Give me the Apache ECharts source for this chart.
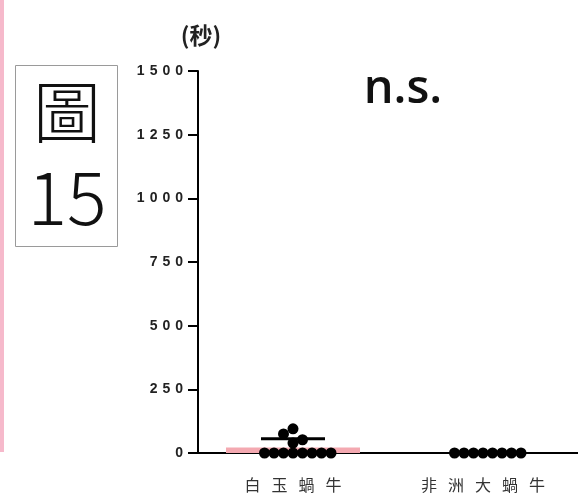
<!DOCTYPE html>
<html>
<head>
<meta charset="utf-8">
<script src="https://cdn.jsdelivr.net/npm/echarts@6/dist/echarts.min.js"></script>
<style>
  html, body { margin: 0; padding: 0; background: #ffffff; }
  #chart { width: 578px; height: 495px; }
</style>
</head>
<body>
<div id="chart"></div>
<script>
// Groups and individual measurements (seconds)
const categories = ['白玉蝸牛', '非洲大蝸牛'];
const groupA = [0, 0, 0, 0, 0, 0, 0, 0, 39, 52, 75, 95];
const groupB = [0, 0, 0, 0, 0, 0, 0, 0];
const groups = [groupA, groupB];
const yTicks = [0, 250, 500, 750, 1000, 1250, 1500];

// Summary statistics: bar at the mean, whisker cap at mean + SD
function mean(a) { return a.reduce((s, v) => s + v, 0) / a.length; }
function sd(a) {
  const m = mean(a);
  return Math.sqrt(a.reduce((s, v) => s + (v - m) * (v - m), 0) / (a.length - 1));
}
const means = groups.map(mean);
const caps = groups.map((g, i) => means[i] + sd(g));

// Plot geometry
const gridLeft = 198, gridTop = 71, gridHeight = 382, gridWidth = 384;
const yMax = 1500;
const dotSize = 11;
const dotStep = 9.6;
const pxPerY = gridHeight / yMax;
const pxPerX = gridWidth / categories.length;

// Simple beeswarm: place each point at the first horizontal slot free of overlap
function swarm(values, center) {
  const placed = [];
  const out = [];
  values.slice().sort((a, b) => a - b).forEach(v => {
    const py = v * pxPerY;
    for (let k = 0; k < 60; k++) {
      const step = Math.ceil(k / 2) * (k % 2 === 1 ? 1 : -1) * dotStep;
      const ok = placed.every(p => Math.hypot(p[0] - step, p[1] - py) >= dotStep * 0.98);
      if (ok) {
        placed.push([step, py]);
        out.push([center + step / pxPerX, v]);
        break;
      }
    }
  });
  return out;
}
const dots = [];
groups.forEach((g, i) => swarm(g, i + 0.5).forEach(p => dots.push(p)));

const summary = groups.map((g, i) => [i + 0.5, means[i], caps[i]]);

function spaced(str, cls) {
  return str.split('').map(c => '{' + cls + '|' + c + '}').join('{g' + cls + '| }');
}

const chart = echarts.init(document.getElementById('chart'), null, { renderer: 'canvas' });
chart.setOption({
  animation: false,
  backgroundColor: '#ffffff',
  grid: { left: gridLeft, top: gridTop, width: gridWidth, height: gridHeight, containLabel: false },
  xAxis: [
    {
      type: 'category',
      data: categories,
      axisLine: { show: true, lineStyle: { color: '#000', width: 2 } },
      axisTick: { show: false },
      splitLine: { show: false },
      axisLabel: {
        interval: 0,
        margin: 24,
        formatter: v => spaced(v, 'c'),
        rich: {
          c: { fontSize: 16, color: '#333', fontFamily: 'Noto Sans CJK TC' },
          gc: { width: 11, fontSize: 16 }
        }
      }
    },
    {
      type: 'value', min: 0, max: categories.length, show: false
    }
  ],
  yAxis: {
    type: 'value',
    min: 0,
    max: yMax,
    interval: 250,
    axisLine: { show: true, lineStyle: { color: '#000', width: 2 } },
    axisTick: { show: true, length: 10, lineStyle: { color: '#000', width: 2 } },
    splitLine: { show: false },
    axisLabel: {
      margin: 15,
      formatter: v => yTicks.indexOf(v) >= 0 ? spaced(String(v), 'd') : '',
      rich: {
        d: { fontSize: 14, fontWeight: 'bold', color: '#222', fontFamily: 'Liberation Sans' },
        gd: { width: 5, fontSize: 14 }
      }
    }
  },
  series: [
    {
      type: 'bar',
      xAxisIndex: 0,
      data: means,
      barWidth: 134,
      itemStyle: { color: '#f4a9b1' },
      z: 1,
      silent: true
    },
    {
      type: 'custom',
      xAxisIndex: 1,
      data: summary,
      z: 3,
      renderItem: function (params, api) {
        const x = api.value(0);
        const top = api.coord([x, api.value(2)]);
        const base = api.coord([x, 0]);
        return {
          type: 'group',
          children: [
            {
              type: 'line',
              shape: { x1: top[0] - 32, y1: top[1], x2: top[0] + 32, y2: top[1] },
              style: { stroke: '#000', lineWidth: 3 }
            },
            {
              type: 'line',
              shape: { x1: top[0], y1: top[1], x2: top[0], y2: base[1] + 5 },
              style: { stroke: '#000', lineWidth: 2 }
            }
          ]
        };
      }
    },
    {
      type: 'scatter',
      xAxisIndex: 1,
      data: dots,
      symbol: 'circle',
      symbolSize: dotSize,
      itemStyle: { color: '#000', opacity: 1 },
      z: 4,
      silent: true
    }
  ],
  graphic: [
    {
      type: 'rect',
      shape: { x: 0, y: 0, width: 4, height: 452 },
      style: { fill: '#f6b9cb' }
    },
    {
      type: 'rect',
      shape: { x: 15.5, y: 65.5, width: 102, height: 181 },
      style: { fill: 'none', stroke: '#9a9a9a', lineWidth: 1 }
    },
    {
      type: 'text',
      style: {
        x: 67, y: 112, text: '圖', fill: '#111',
        font: '300 68px "Noto Sans CJK TC"',
        textAlign: 'center', textVerticalAlign: 'middle'
      }
    },
    {
      type: 'text',
      style: {
        x: 67, y: 197, text: '15', fill: '#111',
        font: '300 74px "Noto Sans CJK TC"',
        textAlign: 'center', textVerticalAlign: 'middle'
      }
    },
    {
      type: 'text',
      style: {
        x: 201, y: 35, text: '(秒)', fill: '#222',
        font: 'bold 23px "Noto Sans CJK TC"',
        textAlign: 'center', textVerticalAlign: 'middle'
      }
    },
    {
      type: 'text',
      style: {
        x: 403, y: 90, text: 'n.s.', fill: '#111',
        font: '600 47px "Open Sans"',
        textAlign: 'center', textVerticalAlign: 'middle'
      }
    }
  ]
});
</script>
</body>
</html>
